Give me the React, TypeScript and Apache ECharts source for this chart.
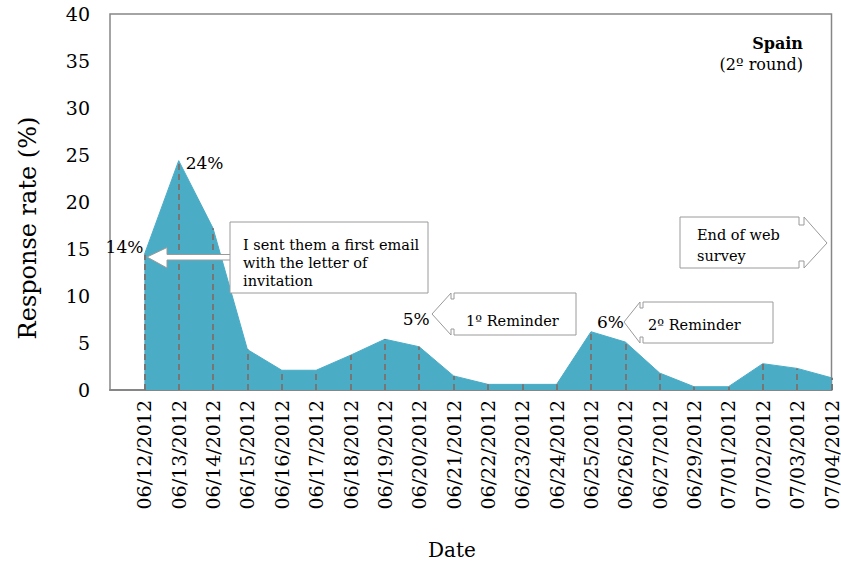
import React, { useEffect, useRef } from "react";
import * as echarts from "echarts";

// Daily response dates (the leading blank slot leaves a gap before the first day)
const categories = [
  "",
  "06/12/2012", "06/13/2012", "06/14/2012", "06/15/2012", "06/16/2012",
  "06/17/2012", "06/18/2012", "06/19/2012", "06/20/2012", "06/21/2012",
  "06/22/2012", "06/23/2012", "06/24/2012", "06/25/2012", "06/26/2012",
  "06/27/2012", "06/29/2012", "07/01/2012", "07/02/2012", "07/03/2012",
  "07/04/2012",
];

// Response rate per day (%)
const responseRate: (number | null)[] = [
  null,
  14.4, 24.4, 17.2, 4.3, 2.1,
  2.1, 3.7, 5.4, 4.6, 1.5,
  0.6, 0.6, 0.6, 6.2, 5.1,
  1.8, 0.35, 0.35, 2.8, 2.3,
  1.3,
];

const yTicks = [0, 5, 10, 15, 20, 25, 30, 35, 40];

// Days whose rate is printed next to the point
const labelledDays: Record<string, { position: any; offset: number[] }> = {
  "06/12/2012": { position: "left", offset: [4, -8] },
  "06/13/2012": { position: "right", offset: [2, 2] },
  "06/20/2012": { position: "top", offset: [-3, -14] },
  "06/25/2012": { position: "right", offset: [1, -10] },
};

const FONT = "DejaVu Serif";
const AREA = "#4BACC6";
const BORDER = "#868686";
const CALLOUT = "#9a9a9a";

export default function App() {
  const ref = useRef<HTMLDivElement>(null);

  useEffect(() => {
    if (!ref.current) return;
    const chart = echarts.init(ref.current, null, { renderer: "svg" });

    const seriesData = responseRate.map((v, i) => {
      const cfg = labelledDays[categories[i]];
      if (v == null || !cfg) return v;
      return {
        value: v,
        label: {
          show: true,
          position: cfg.position,
          offset: cfg.offset,
          formatter: (p: any) => `${Math.round(p.value)}%`,
          fontFamily: FONT,
          fontSize: 17,
          color: "#000",
        },
      };
    });

    const dropLines = responseRate
      .map((v, i) => (v == null ? null : [{ coord: [i, 0] }, { coord: [i, v] }]))
      .filter((d) => d !== null);

    chart.setOption({
      animation: false,
      backgroundColor: "#fff",
      textStyle: { fontFamily: FONT },
      grid: {
        left: 110,
        top: 14,
        right: 9,
        bottom: 173,
        show: true,
        borderColor: BORDER,
        borderWidth: 1.5,
        backgroundColor: "transparent",
      },
      xAxis: {
        type: "category",
        data: categories,
        boundaryGap: false,
        axisLine: { show: true, lineStyle: { color: BORDER, width: 2 } },
        axisTick: { show: false },
        axisLabel: {
          rotate: 90,
          interval: 0,
          margin: 10,
          fontFamily: FONT,
          fontSize: 19,
          color: "#000",
        },
        splitLine: { show: false },
      },
      yAxis: {
        type: "value",
        min: yTicks[0],
        max: yTicks[yTicks.length - 1],
        interval: 5,
        axisLine: { show: false },
        axisTick: { show: false },
        axisLabel: { margin: 20, fontFamily: FONT, fontSize: 19, color: "#000" },
        splitLine: { show: false },
      },
      series: [
        {
          type: "line",
          data: seriesData,
          symbol: "circle",
          symbolSize: 0,
          showSymbol: true,
          itemStyle: { color: AREA },
          lineStyle: { color: AREA, width: 1 },
          areaStyle: { color: AREA, opacity: 1 },
          z: 2,
          markLine: {
            silent: true,
            symbol: ["none", "none"],
            label: { show: false },
            lineStyle: { color: "#767676", type: [6, 4], width: 2 },
            data: dropLines,
            z: 3,
          },
        },
      ],
      graphic: [
        // Axis titles
        {
          type: "text",
          x: 28,
          y: 228,
          rotation: Math.PI / 2,
          style: {
            text: "Response rate (%)",
            fontFamily: FONT,
            fontSize: 24,
            fill: "#000",
            align: "center",
            verticalAlign: "middle",
          },
        },
        {
          type: "text",
          x: 452,
          y: 550,
          style: {
            text: "Date",
            fontFamily: FONT,
            fontSize: 20,
            fill: "#000",
            align: "center",
            verticalAlign: "middle",
          },
        },
        // First e-mail callout
        {
          type: "polygon",
          shape: {
            points: [
              [147, 257], [167, 247.5], [167, 254.5], [231, 254.5],
              [231, 260], [167, 260], [167, 268],
            ],
          },
          style: { fill: "#fff", stroke: CALLOUT, lineWidth: 1 },
          z: 10,
        },
        {
          type: "rect",
          shape: { x: 230, y: 222, width: 198, height: 71 },
          style: { fill: "#fff", stroke: CALLOUT, lineWidth: 1 },
          z: 10,
        },
        {
          type: "text",
          x: 243,
          y: 263,
          style: {
            text: "I sent them a first email\nwith the letter of\ninvitation",
            fontFamily: FONT,
            fontSize: 14.5,
            lineHeight: 18,
            fill: "#000",
            verticalAlign: "middle",
          },
          z: 11,
        },
        // First reminder callout
        {
          type: "polygon",
          shape: {
            points: [
              [454, 293], [576, 293], [576, 335], [454, 335], [454, 329],
              [451, 329], [451, 335], [432, 314], [451, 293], [451, 299], [454, 299],
            ],
          },
          style: { fill: "#fff", stroke: CALLOUT, lineWidth: 1 },
          z: 10,
        },
        {
          type: "text",
          x: 466,
          y: 321,
          style: {
            text: "1º Reminder",
            fontFamily: FONT,
            fontSize: 14.5,
            fill: "#000",
            verticalAlign: "middle",
          },
          z: 11,
        },
        // Second reminder callout
        {
          type: "polygon",
          shape: {
            points: [
              [643, 302], [773, 302], [773, 343], [643, 343], [643, 337],
              [640, 337], [640, 343], [624, 322], [640, 302], [640, 308], [643, 308],
            ],
          },
          style: { fill: "#fff", stroke: CALLOUT, lineWidth: 1 },
          z: 10,
        },
        {
          type: "text",
          x: 648,
          y: 325,
          style: {
            text: "2º Reminder",
            fontFamily: FONT,
            fontSize: 14.5,
            fill: "#000",
            verticalAlign: "middle",
          },
          z: 11,
        },
        // End of survey callout
        {
          type: "polygon",
          shape: {
            points: [
              [680, 217], [799, 217], [799, 225], [804, 225], [804, 217],
              [827, 243], [804, 268], [804, 261], [799, 261], [799, 268], [680, 268],
            ],
          },
          style: { fill: "#fff", stroke: CALLOUT, lineWidth: 1 },
          z: 10,
        },
        {
          type: "text",
          x: 697,
          y: 245,
          style: {
            text: "End of web\nsurvey",
            fontFamily: FONT,
            fontSize: 14.5,
            lineHeight: 21,
            fill: "#000",
            verticalAlign: "middle",
          },
          z: 11,
        },
        // Country heading
        {
          type: "text",
          x: 803,
          y: 43,
          style: {
            text: "Spain",
            fontFamily: FONT,
            fontSize: 16,
            fontWeight: "bold",
            fill: "#000",
            align: "right",
            verticalAlign: "middle",
          },
          z: 11,
        },
        {
          type: "text",
          x: 803,
          y: 64,
          style: {
            text: "(2º round)",
            fontFamily: FONT,
            fontSize: 16,
            fill: "#000",
            align: "right",
            verticalAlign: "middle",
          },
          z: 11,
        },
      ],
    });

    return () => chart.dispose();
  }, []);

  return (
    <div
      ref={ref}
      style={{ position: "fixed", left: 0, top: 0, width: 841, height: 563 }}
    />
  );
}
